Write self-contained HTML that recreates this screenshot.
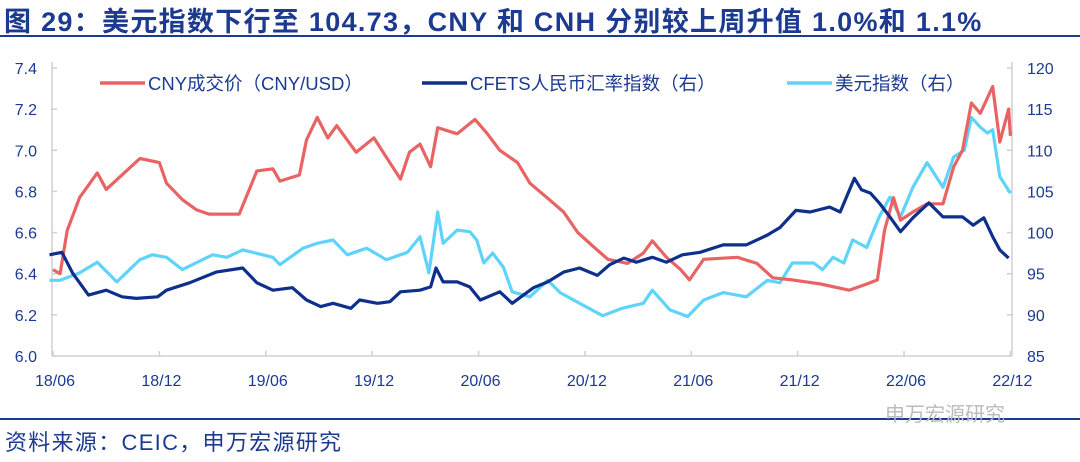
<!DOCTYPE html>
<html><head><meta charset="utf-8">
<style>
body{margin:0;background:#fff;width:1080px;height:462px;overflow:hidden;font-family:"Liberation Sans","Noto Sans CJK SC",sans-serif;}
.t{position:absolute;left:4px;top:0px;font-size:27px;font-weight:bold;color:#1c3a90;white-space:nowrap;letter-spacing:1.3px}
.rule{position:absolute;left:0;width:1080px;height:2px;background:#1c3a90}
.src{position:absolute;left:5px;top:425px;font-size:22px;color:#1c3a90;white-space:nowrap;letter-spacing:1.3px}
</style></head><body>
<div class="t">图 29：美元指数下行至 104.73，CNY 和 CNH 分别较上周升值 1.0%和 1.1%</div>
<div class="rule" style="top:35px"></div>
<svg id="chart" width="1080" height="462" style="position:absolute;left:0;top:0"></svg>
<div class="rule" style="top:418px"></div>
<div class="src">资料来源：CEIC，申万宏源研究</div>
<div style="position:absolute;left:885px;top:398px;font-size:20px;color:#bbb;white-space:nowrap">申万宏源研究</div>
<script>
const xLabels=["18/06","18/12","19/06","19/12","20/06","20/12","21/06","21/12","22/06","22/12"];
const leftTicks=[6.0,6.2,6.4,6.6,6.8,7.0,7.2,7.4];
const rightTicks=[85,90,95,100,105,110,115,120];
// months since 2018-06
const cnyT=[0,0.4,0.8,1.5,2.5,3.0,4.9,6.0,6.4,7.3,8.1,8.8,10.5,11.5,12.4,12.8,13.9,14.3,14.9,15.5,16.0,17.1,18.1,19.6,20.1,20.7,21.3,21.7,22.8,23.8,24.5,25.2,26.2,26.9,28.0,28.8,29.6,30.5,31.3,32.4,33.3,33.8,34.6,35.4,35.9,36.7,38.6,39.7,40.6,41.7,43.3,44.9,45.9,46.5,46.9,47.4,47.8,48.5,49.3,50.2,50.8,51.3,51.8,52.3,53.0,53.4,53.9,54.0];
const cnyV=[6.42,6.40,6.61,6.77,6.89,6.81,6.96,6.94,6.84,6.76,6.71,6.69,6.69,6.90,6.91,6.85,6.88,7.05,7.16,7.06,7.12,6.99,7.06,6.86,6.99,7.03,6.92,7.11,7.08,7.15,7.08,7.00,6.94,6.84,6.76,6.70,6.60,6.53,6.47,6.45,6.50,6.56,6.48,6.42,6.37,6.47,6.48,6.45,6.38,6.37,6.35,6.32,6.35,6.37,6.61,6.77,6.66,6.70,6.74,6.74,6.92,7.00,7.23,7.18,7.31,7.04,7.20,7.07];
const cfetsT=[-0.2,0.5,1.1,2.0,3.0,3.9,4.7,5.9,6.4,7.7,9.2,10.7,11.5,12.4,13.5,14.3,15.1,15.8,16.8,17.3,18.3,19.0,19.6,20.7,21.3,21.6,22.0,22.8,23.5,24.1,25.2,25.9,27.1,27.9,28.8,29.7,30.7,31.4,32.2,32.9,33.8,34.6,35.5,36.5,37.8,39.1,40.3,41.0,41.9,42.7,43.8,44.4,45.2,45.6,46.1,46.6,47.2,47.8,48.5,49.4,50.2,51.3,51.9,52.5,53.0,53.4,53.9];
const cfetsV=[97.3,97.6,95.1,92.4,93.0,92.2,92.0,92.2,93.0,93.9,95.2,95.7,93.9,93.0,93.3,91.8,91.0,91.4,90.8,91.8,91.4,91.6,92.8,93.0,93.4,95.7,94.0,94.0,93.4,91.8,92.8,91.4,93.3,94.0,95.2,95.7,94.8,96.1,96.9,96.4,97.0,96.4,97.3,97.6,98.5,98.5,99.7,100.6,102.7,102.5,103.1,102.5,106.6,105.2,104.8,103.6,101.9,100.1,101.8,103.6,101.9,101.9,100.9,101.8,99.5,97.9,96.9];
const dxyT=[-0.2,0.4,1.5,2.5,3.6,4.9,5.6,6.4,7.3,9.0,9.8,10.7,12.4,12.8,14.1,14.9,15.8,16.6,17.7,18.8,20.0,20.7,21.2,21.7,22.0,22.8,23.5,23.9,24.3,24.8,25.4,25.9,26.9,27.9,28.6,29.7,31.0,32.1,33.3,33.8,34.8,35.8,36.7,37.8,39.1,40.3,41.0,41.7,42.9,43.4,44.0,44.6,45.1,45.9,46.6,47.2,47.8,48.5,49.3,50.2,50.8,51.4,51.8,52.3,52.7,53.0,53.4,54.0];
const dxyV=[94.2,94.2,95.1,96.4,94.0,96.7,97.3,97.0,95.5,97.3,97.0,97.9,97.0,96.1,98.1,98.7,99.1,97.3,98.1,96.7,97.6,99.5,95.1,102.5,98.7,100.3,100.1,99.1,96.3,97.5,95.8,92.8,92.2,94.2,92.7,91.4,89.9,90.8,91.4,93.0,90.6,89.8,91.8,92.7,92.2,94.2,93.9,96.3,96.3,95.5,97.0,96.3,99.1,98.2,101.9,104.3,101.9,105.5,108.5,105.5,109.2,110.0,114.0,112.8,112.1,112.5,106.8,104.8];

const NS="http://www.w3.org/2000/svg";
const svg=document.getElementById('chart');
const X0=53,PXM=17.73,L=52,R=1012,TOP=68,BOT=356;
const xS=t=>X0+t*PXM;
const yL=v=>BOT-(v-6.0)/(7.4-6.0)*(BOT-TOP);
const yR=v=>BOT-(v-85)/(120-85)*(BOT-TOP);
function mk(tag,attrs,parent){const e=document.createElementNS(NS,tag);for(const k in attrs)e.setAttribute(k,attrs[k]);(parent||svg).appendChild(e);return e;}
const axC="#d0d0d0",txC="#1c3a90";
const ax=mk('g',{});


mk('line',{x1:L,y1:TOP-6,x2:L,y2:BOT,stroke:axC,'stroke-width':1.5},ax);
mk('line',{x1:R,y1:TOP-6,x2:R,y2:BOT,stroke:axC,'stroke-width':1.5},ax);
mk('line',{x1:L,y1:BOT,x2:R,y2:BOT,stroke:axC,'stroke-width':1.5},ax);
leftTicks.forEach(v=>{const y=yL(v);
 mk('line',{x1:L,y1:y,x2:L+5,y2:y,stroke:axC,'stroke-width':1.5},ax);
 const t=mk('text',{x:37,y:y+6,'text-anchor':'end','font-size':16,fill:txC},ax);t.textContent=v.toFixed(1);
 
 });
rightTicks.forEach(v=>{const y=yR(v);
 mk('line',{x1:R-5,y1:y,x2:R,y2:y,stroke:axC,'stroke-width':1.5},ax);
 const t=mk('text',{x:1027,y:y+6,'font-size':16,fill:txC},ax);t.textContent=v;
 
 });
xLabels.forEach((s,i)=>{const x=xS(i*6);
 mk('line',{x1:x,y1:BOT-5,x2:x,y2:BOT,stroke:axC,'stroke-width':1.5},ax);
 const t=mk('text',{x:x+2,y:386,'text-anchor':'middle','font-size':16,fill:txC},ax);t.textContent=s;
 
 });
function series(T,V,ys,color,name){
 const pts=T.map((t,i)=>xS(t).toFixed(1)+','+ys(V[i]).toFixed(1)).join(' ');
 const p=mk('polyline',{points:pts,fill:'none',stroke:color,'stroke-width':3.2,'stroke-linejoin':'round'});
 
 
}
series(dxyT,dxyV,yR,'#5fd4fb','dxy-line');
series(cnyT,cnyV,yL,'#e86464','cny-line');
series(cfetsT,cfetsV,yR,'#0e2f8c','cfets-line');
const legend=[["CNY成交价（CNY/USD）","#e86464",100],["CFETS人民币汇率指数（右）","#0e2f8c",422],["美元指数（右）","#5fd4fb",787]];
legend.forEach(([s,c,x])=>{const g=mk('g',{});
 
 
 mk('line',{x1:x,y1:83,x2:x+45,y2:83,stroke:c,'stroke-width':3.5},g);
 const t=mk('text',{x:x+48,y:90,'font-size':18.5,fill:txC},g);t.textContent=s;});
</script>
</body></html>
